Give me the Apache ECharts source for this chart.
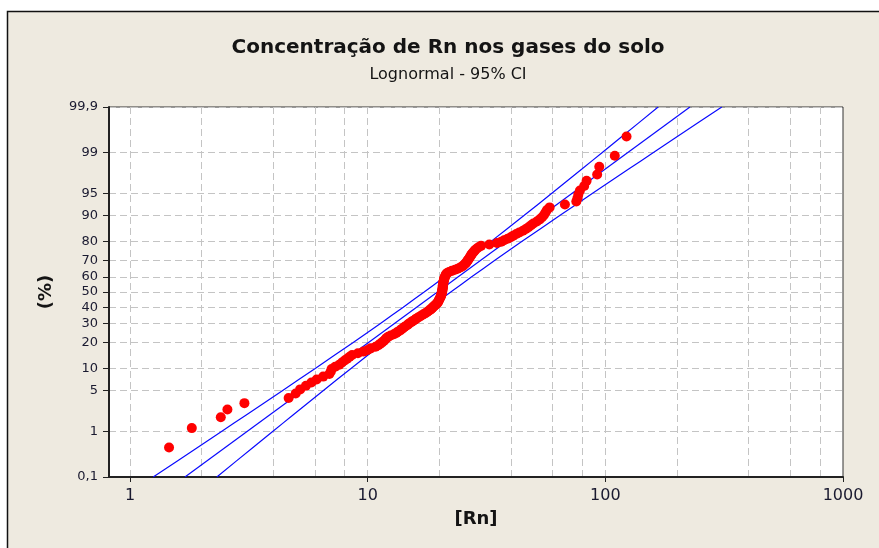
<!DOCTYPE html>
<html>
<head>
<meta charset="utf-8">
<script src="https://cdn.jsdelivr.net/npm/echarts@6/dist/echarts.min.js"></script>
<style>
html,body{margin:0;padding:0;background:#ffffff;}
#chart{width:879px;height:548px;}
</style>
</head>
<body>
<div id="chart"></div>
<script>
// ---- data ----
const percentTicks = [0.1, 1, 5, 10, 20, 30, 40, 50, 60, 70, 80, 90, 95, 99, 99.9];
const percentTickLabels = ['0,1', '1', '5', '10', '20', '30', '40', '50', '60', '70', '80', '90', '95', '99', '99,9'];
const xLabelValues = [1, 10, 100, 1000];
const xGridValues = [1, 2, 4, 6, 8, 10, 20, 40, 60, 80, 100, 200, 400, 600, 800];

// Rn concentrations (sorted) and their cumulative percentages
const rnValues = [
  1.46, 1.82, 2.41, 2.57, 3.03, 4.65, 4.98, 5.2, 5.5, 5.8,
  6.1, 6.5, 6.9, 7.0, 7.05, 7.3, 7.6, 7.8, 8.0, 8.2,
  8.4, 8.6, 9.1, 9.6, 10.0, 10.3, 10.8, 11.1, 11.3, 11.5,
  11.7, 11.85, 12.0, 12.2, 12.5, 12.9, 13.2, 13.4, 13.7, 13.9,
  14.1, 14.3, 14.6, 14.8, 15.0, 15.3, 15.5, 15.8, 16.0, 16.3,
  16.6, 16.9, 17.2, 17.5, 17.8, 18.0, 18.3, 18.5, 18.7, 18.9,
  19.1, 19.3, 19.5, 19.7, 19.8, 19.9, 20.0, 20.1, 20.2, 20.3,
  20.4, 20.4, 20.5, 20.5, 20.6, 20.6, 20.6, 20.7, 20.7, 20.7,
  20.7, 20.8, 20.8, 20.8, 20.9, 20.9, 21.0, 21.0, 21.1, 21.2,
  21.3, 21.4, 21.6, 22.0, 22.6, 23.3, 23.9, 24.5, 25.0, 25.3,
  25.6, 25.9, 26.1, 26.3, 26.5, 26.7, 26.9, 27.1, 27.3, 27.5,
  27.8, 28.1, 28.4, 28.8, 29.3, 30.0, 32.5, 35.0, 36.5, 37.5,
  38.8, 40.0, 41.0, 42.2, 43.5, 45.0, 46.3, 47.5, 48.7, 49.8,
  51.5, 53.0, 54.2, 55.2, 56.0, 56.8, 58.3, 67.6, 75.5, 76.3,
  77.0, 78.2, 81.5, 83.4, 92.4, 94.3, 109.6, 122.8
];
const cumPercent = [
  0.47, 1.15, 1.82, 2.49, 3.17, 3.84, 4.51, 5.19, 5.86, 6.54,
  7.21, 7.88, 8.56, 9.23, 9.91, 10.58, 11.25, 11.93, 12.60, 13.27,
  13.95, 14.62, 15.30, 15.97, 16.64, 17.32, 17.99, 18.67, 19.34, 20.01,
  20.69, 21.36, 22.04, 22.71, 23.38, 24.06, 24.73, 25.40, 26.08, 26.75,
  27.43, 28.10, 28.77, 29.45, 30.12, 30.80, 31.47, 32.14, 32.82, 33.49,
  34.16, 34.84, 35.51, 36.19, 36.86, 37.53, 38.21, 38.88, 39.56, 40.23,
  40.90, 41.58, 42.25, 42.92, 43.60, 44.27, 44.95, 45.62, 46.29, 46.97,
  47.64, 48.32, 48.99, 49.66, 50.34, 51.01, 51.68, 52.36, 53.03, 53.71,
  54.38, 55.05, 55.73, 56.40, 57.08, 57.75, 58.42, 59.10, 59.77, 60.44,
  61.12, 61.79, 62.47, 63.14, 63.81, 64.49, 65.16, 65.84, 66.51, 67.18,
  67.86, 68.53, 69.20, 69.88, 70.55, 71.23, 71.90, 72.57, 73.25, 73.92,
  74.60, 75.27, 75.94, 76.62, 77.29, 77.96, 78.64, 79.31, 79.99, 80.66,
  81.33, 82.01, 82.68, 83.36, 84.03, 84.70, 85.38, 86.05, 86.73, 87.40,
  88.07, 88.75, 89.42, 90.09, 90.77, 91.44, 92.12, 92.79, 93.46, 94.14,
  94.81, 95.49, 96.16, 96.83, 97.51, 98.18, 98.86, 99.53
];

// fitted lognormal line and 95% confidence band
const fitPercent = [0.1, 99.9];
const fitRn = [1.703, 227.0];
const ciPercent = [0.1, 0.5, 1, 2, 5, 10, 20, 30, 40, 50, 60, 70, 80, 90, 95, 98, 99, 99.5, 99.9];
const ciLowerRn = [1.252, 1.960, 2.436, 3.084, 4.391, 5.995, 8.695, 11.32, 14.12, 17.29, 21.08, 25.96, 32.96, 45.60, 59.37, 79.69, 96.83, 115.7, 166.8];
const ciUpperRn = [2.319, 3.342, 3.995, 4.852, 6.514, 8.484, 11.73, 14.90, 18.34, 22.37, 27.40, 34.18, 44.48, 64.52, 88.07, 125.4, 158.8, 197.3, 309.0];

// ---- probability (normal) scale transform ----
function probit(p) {
  const a = [-3.969683028665376e+01, 2.209460984245205e+02, -2.759285104469687e+02, 1.383577518672690e+02, -3.066479806614716e+01, 2.506628277459239e+00];
  const b = [-5.447609879822406e+01, 1.615858368580409e+02, -1.556989798598866e+02, 6.680131188771972e+01, -1.328068155288572e+01];
  const c = [-7.784894002430293e-03, -3.223964580411365e-01, -2.400758277161838e+00, -2.549732539343734e+00, 4.374664141464968e+00, 2.938163982698783e+00];
  const d = [7.784695709041462e-03, 3.224671290700398e-01, 2.445134137142996e+00, 3.754408661907416e+00];
  const plow = 0.02425, phigh = 1 - plow;
  let q, r;
  if (p < plow) {
    q = Math.sqrt(-2 * Math.log(p));
    return (((((c[0]*q+c[1])*q+c[2])*q+c[3])*q+c[4])*q+c[5]) / ((((d[0]*q+d[1])*q+d[2])*q+d[3])*q+1);
  }
  if (p > phigh) {
    q = Math.sqrt(-2 * Math.log(1 - p));
    return -(((((c[0]*q+c[1])*q+c[2])*q+c[3])*q+c[4])*q+c[5]) / ((((d[0]*q+d[1])*q+d[2])*q+d[3])*q+1);
  }
  q = p - 0.5; r = q * q;
  return (((((a[0]*r+a[1])*r+a[2])*r+a[3])*r+a[4])*r+a[5])*q / (((((b[0]*r+b[1])*r+b[2])*r+b[3])*r+b[4])*r+1);
}
const zOf = pct => probit(pct / 100);
const yTickZ = percentTicks.map(zOf);
const yMin = zOf(0.1), yMax = zOf(99.9);

function yLabel(v) {
  let best = 0, bd = Infinity;
  yTickZ.forEach((z, i) => { const dd = Math.abs(z - v); if (dd < bd) { bd = dd; best = i; } });
  return percentTickLabels[best];
}

const points = rnValues.map((x, i) => [x, zOf(cumPercent[i])]);
const fitLine = fitRn.map((x, i) => [x, zOf(fitPercent[i])]);
const ciLow = ciLowerRn.map((x, i) => [x, zOf(ciPercent[i])]);
const ciUp = ciUpperRn.map((x, i) => [x, zOf(ciPercent[i])]);

const FONT = '"DejaVu Sans", Verdana, sans-serif';
const gridLine = { show: true, lineStyle: { color: '#c4c4c4', width: 1, type: [7, 4] } };
const xMin = 0.816, xMax = 1000;

const chart = echarts.init(document.getElementById('chart'), null, { renderer: 'canvas' });
chart.setOption({
  backgroundColor: '#ffffff',
  animation: false,
  graphic: [{
    type: 'rect', z: -10, silent: true,
    shape: { x: 7.5, y: 11.5, width: 900, height: 600 },
    style: { fill: '#eeeae0', stroke: '#111111', lineWidth: 1.5 }
  }],
  title: [
    { text: 'Concentração de Rn nos gases do solo', left: 443, top: 33, textAlign: 'center',
      textStyle: { fontFamily: FONT, fontSize: 20, fontWeight: 'bold', color: '#141414' } },
    { text: 'Lognormal - 95% CI', left: 443, top: 62, textAlign: 'center',
      textStyle: { fontFamily: FONT, fontSize: 16, fontWeight: 'normal', color: '#141414' } }
  ],
  grid: {
    left: 109, top: 107, right: 36, bottom: 71,
    show: true, backgroundColor: '#ffffff', borderColor: '#333333', borderWidth: 1
  },
  xAxis: [{
    type: 'log', logBase: 10, min: xMin, max: xMax, position: 'bottom',
    name: '[Rn]', nameLocation: 'middle', nameGap: 33,
    nameTextStyle: { fontFamily: FONT, fontSize: 18, fontWeight: 'bold', color: '#141414' },
    axisLine: { show: true, onZero: false, lineStyle: { color: '#222222', width: 2 } },
    axisTick: { show: true, customValues: xLabelValues, length: 5, inside: false, lineStyle: { color: '#222222', width: 1 } },
    axisLabel: { customValues: xLabelValues, margin: 11, fontFamily: FONT, fontSize: 16, color: '#1a1a30',
      formatter: v => String(Math.round(v)) },
    splitLine: { show: false }, minorTick: { show: false }, minorSplitLine: { show: false }
  }, {
    type: 'log', logBase: 10, min: xMin, max: xMax, position: 'bottom',
    axisLine: { show: false, onZero: false },
    axisTick: { show: false, customValues: xGridValues },
    axisLabel: { show: false },
    splitLine: gridLine
  }],
  yAxis: {
    type: 'value', min: yMin, max: yMax,
    name: '(%)', nameLocation: 'middle', nameGap: 54, nameRotate: 90,
    nameTextStyle: { fontFamily: FONT, fontSize: 18, fontWeight: 'bold', color: '#141414' },
    axisLine: { show: true, onZero: false, lineStyle: { color: '#222222', width: 2 } },
    axisTick: { show: true, customValues: yTickZ, length: 6, lineStyle: { color: '#222222', width: 1 } },
    axisLabel: { customValues: yTickZ, margin: 11, fontFamily: FONT, fontSize: 13, color: '#1a1a30', formatter: yLabel },
    splitLine: gridLine
  },
  series: [
    { type: 'line', name: 'fit', data: fitLine, showSymbol: false, symbol: 'none', z: 3,
      lineStyle: { color: '#0a0aff', width: 1.2 } },
    { type: 'line', name: 'ci-low', data: ciLow, showSymbol: false, symbol: 'none', smooth: 0.2, z: 3,
      lineStyle: { color: '#0a0aff', width: 1.2 } },
    { type: 'line', name: 'ci-up', data: ciUp, showSymbol: false, symbol: 'none', smooth: 0.2, z: 3,
      lineStyle: { color: '#0a0aff', width: 1.2 } },
    { type: 'scatter', name: 'Rn', data: points, symbol: 'circle', symbolSize: 10, z: 5,
      itemStyle: { color: '#ff0000', opacity: 1 } }
  ]
});
</script>
</body>
</html>
